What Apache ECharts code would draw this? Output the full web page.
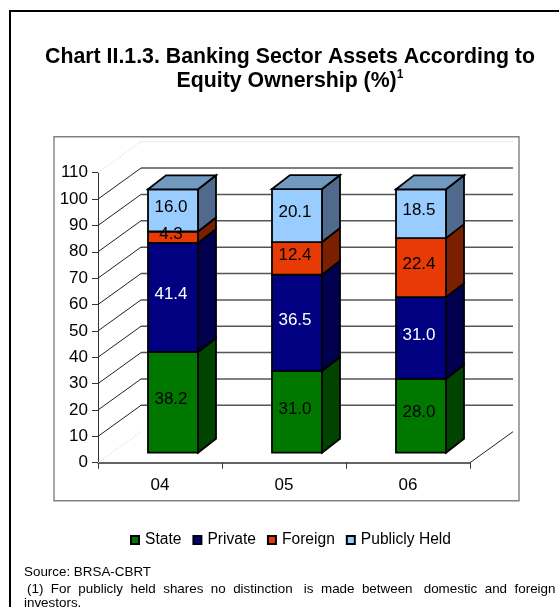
<!DOCTYPE html>
<html>
<head>
<meta charset="utf-8">
<style>html,body{margin:0;padding:0;background:#fff}#chart{width:559px;height:607px}</style>
<script src="https://cdn.jsdelivr.net/npm/echarts@6/dist/echarts.min.js"></script>
</head>
<body>
<div id="chart"></div>
<script>
// Banking sector assets by equity ownership, drawn as stacked pseudo-3D columns.
const categories = ['04', '05', '06'];
const state = [38.2, 31.0, 28.0];
const privateOwned = [41.4, 36.5, 31.0];
const foreign = [4.3, 12.4, 22.4];
const publiclyHeld = [16.0, 20.1, 18.5];
const yTicks = [0, 10, 20, 30, 40, 50, 60, 70, 80, 90, 100, 110];

const FONT = '"Liberation Sans", Arial, sans-serif';
const DEPTH_X = 43, DEPTH_Y = -31;       // wall depth of the plot box
const BAR_DX = 18, BAR_DY = -14;         // depth of a column
const BAR_SHIFT_X = 13, BAR_SHIFT_Y = -10; // columns stand in the middle of the floor
const BAR_RATIO = 50 / 124;

const layers = [
  { name: 'State', values: state, front: '#007800', side: '#004400', text: '#000' },
  { name: 'Private', values: privateOwned, front: '#000080', side: '#00004e', text: '#fff' },
  { name: 'Foreign', values: foreign, front: '#e83a04', side: '#7a2000', text: '#000' },
  { name: 'Publicly Held', values: publiclyHeld, front: '#99ccff', side: '#4f6a8c', text: '#000', top: '#7299c0' }
];

// Running totals give each segment its lower and upper bound.
function segmentRows(layerIndex) {
  return categories.map((c, i) => {
    let start = 0;
    for (let k = 0; k < layerIndex; k++) start += layers[k].values[i];
    const value = layers[layerIndex].values[i];
    return [i, start, start + value, value, layerIndex];
  });
}

function frontBox(api) {
  const w = api.size([1, 0])[0] * BAR_RATIO;
  const cat = api.value(0);
  const lo = api.coord([cat, api.value(1)]);
  const hi = api.coord([cat, api.value(2)]);
  const x0 = lo[0] - w / 2 + BAR_SHIFT_X;
  return { x0: x0, x1: x0 + w, yb: lo[1] + BAR_SHIFT_Y, yt: hi[1] + BAR_SHIFT_Y };
}

function renderSegment(layer) {
  return function (params, api) {
    const b = frontBox(api);
    const edge = { stroke: '#000', lineWidth: 1.8, lineJoin: 'miter' };
    const children = [
      {
        type: 'polygon',
        shape: { points: [[b.x1, b.yb], [b.x1 + BAR_DX, b.yb + BAR_DY], [b.x1 + BAR_DX, b.yt + BAR_DY], [b.x1, b.yt]] },
        style: Object.assign({ fill: layer.side }, edge)
      },
      {
        type: 'rect',
        shape: { x: b.x0, y: b.yt, width: b.x1 - b.x0, height: b.yb - b.yt },
        style: Object.assign({ fill: layer.front }, edge)
      }
    ];
    if (layer.top) {
      children.push({
        type: 'polygon',
        shape: { points: [[b.x0, b.yt], [b.x0 + BAR_DX, b.yt + BAR_DY], [b.x1 + BAR_DX, b.yt + BAR_DY], [b.x1, b.yt]] },
        style: Object.assign({ fill: layer.top }, edge)
      });
    }
    return { type: 'group', children: children };
  };
}

// Value labels sit above all the columns so a thin segment's text can overhang.
function renderValueLabel(params, api) {
  const b = frontBox(api);
  return {
    type: 'text',
    style: {
      x: (b.x0 + b.x1) / 2 - 2,
      y: (b.yt + b.yb) / 2 - 3,
      text: api.value(3).toFixed(1),
      fill: layers[api.value(4)].text,
      font: '17px ' + FONT,
      textAlign: 'center',
      textVerticalAlign: 'middle'
    }
  };
}

// Back wall: each tick climbs the side wall and then runs across the back.
function renderWall(params, api) {
  const v = api.value(0);
  const p = api.coord([0, v]);
  const r = params.coordSys.x + params.coordSys.width;
  const faint = v === 0 || v === 110;
  const sx = p[0] - api.size([1, 0])[0] / 2;
  const children = [{
    type: 'line',
    shape: { x1: sx, y1: p[1], x2: sx + DEPTH_X, y2: p[1] + DEPTH_Y },
    style: { stroke: faint ? '#e6e6e6' : '#222', lineWidth: 1, lineDash: faint ? [2, 1] : null }
  }];
  if (v === 0) {
    // Floor edge on the right-hand side instead of a back line.
    children.push({
      type: 'line',
      shape: { x1: r, y1: p[1], x2: r + DEPTH_X, y2: p[1] + DEPTH_Y },
      style: { stroke: '#222', lineWidth: 1 }
    });
  } else {
    children.push({
      type: 'line',
      shape: { x1: sx + DEPTH_X, y1: p[1] + DEPTH_Y, x2: r + DEPTH_X, y2: p[1] + DEPTH_Y },
      style: { stroke: faint ? '#eeeeee' : '#555', lineWidth: faint ? 1 : 1.5 }
    });
  }
  return { type: 'group', children: children };
}

const chart = echarts.init(document.getElementById('chart'), null, { renderer: 'canvas' });

const series = [{
  type: 'custom',
  name: 'wall',
  silent: true,
  z: 1,
  coordinateSystem: 'cartesian2d',
  clip: false,
  encode: { y: 0 },
  data: yTicks.map(t => [t]),
  renderItem: renderWall
}].concat(layers.map((layer, i) => ({
  type: 'custom',
  name: layer.name,
  z: 3 + i,
  clip: false,
  coordinateSystem: 'cartesian2d',
  itemStyle: { color: layer.front, borderColor: '#000', borderWidth: 1 },
  encode: { x: 0, y: [1, 2] },
  data: segmentRows(i),
  renderItem: renderSegment(layer)
}))).concat([{
  type: 'custom',
  name: 'values',
  silent: true,
  z: 20,
  clip: false,
  coordinateSystem: 'cartesian2d',
  encode: { x: 0, y: [1, 2] },
  data: layers.flatMap((l, i) => segmentRows(i)),
  renderItem: renderValueLabel
}]);

chart.setOption({
  animation: false,
  backgroundColor: '#fff',
  textStyle: { fontFamily: FONT },
  title: {
    text: 'Chart II.1.3. Banking Sector Assets According to\nEquity Ownership (%){sup|1}',
    left: 285,
    top: 40,
    textAlign: 'center',
    textStyle: {
      fontFamily: FONT,
      fontSize: 21.3,
      fontWeight: 'bold',
      color: '#000',
      lineHeight: 24,
      rich: {
        sup: { fontFamily: FONT, fontSize: 12, fontWeight: 'bold', color: '#000', verticalAlign: 'top', lineHeight: 24 }
      }
    }
  },
  legend: {
    data: layers.map(l => l.name),
    top: 527,
    left: 125,
    icon: 'rect',
    itemWidth: 8,
    itemHeight: 8,
    itemGap: 11,
    selectedMode: false,
    textStyle: { fontFamily: FONT, fontSize: 15.6, color: '#000', padding: [0, 0, 0, 1] }
  },
  grid: { left: 98, top: 172.7, width: 372, height: 290, containLabel: false },
  xAxis: {
    type: 'category',
    data: categories,
    boundaryGap: true,
    axisLine: { lineStyle: { color: '#333', width: 1.5 } },
    axisTick: { show: true, alignWithLabel: false, length: 6, lineStyle: { color: '#333', width: 1 } },
    axisLabel: { fontFamily: FONT, fontSize: 17, color: '#000', margin: 14 },
    splitLine: { show: false }
  },
  yAxis: {
    type: 'value',
    min: 0,
    max: 110,
    interval: 10,
    axisLine: { show: true, lineStyle: { color: '#333', width: 1 } },
    axisTick: { show: true, length: 6, lineStyle: { color: '#333', width: 1 } },
    axisLabel: { fontFamily: FONT, fontSize: 17, color: '#000', margin: 10 },
    splitLine: { show: false }
  },
  graphic: [
    // outer page box; its right side falls outside the window
    { type: 'polyline', z: 0, silent: true, shape: { points: [[10, 607], [10, 11], [559, 11]] }, style: { stroke: '#000', lineWidth: 2, fill: null } },
    // chart area frame
    { type: 'rect', z: 0, silent: true, shape: { x: 54, y: 136.7, width: 465, height: 364 }, style: { stroke: '#808080', lineWidth: 1.4, fill: null } },
    { type: 'text', silent: true, style: { x: 24, y: 572, text: 'Source: BRSA-CBRT', font: '13.4px ' + FONT, fill: '#000', textVerticalAlign: 'middle' } },
    { type: 'text', silent: true, style: { x: 27, y: 589, text: '(1)  For  publicly  held  shares  no  distinction   is  made  between   domestic  and  foreign', font: '13.4px ' + FONT, fill: '#000', textVerticalAlign: 'middle' } },
    { type: 'text', silent: true, style: { x: 24, y: 603, text: 'investors.', font: '13.4px ' + FONT, fill: '#000', textVerticalAlign: 'middle' } }
  ],
  series: series
});
</script>
</body>
</html>
